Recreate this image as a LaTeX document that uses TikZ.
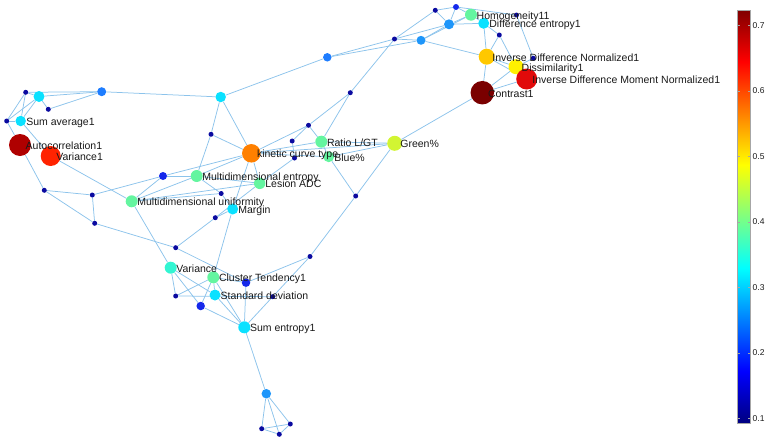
\documentclass[tikz,border=0pt]{standalone}
\usepackage{fontspec}
\setmainfont{Liberation Sans}
\pgfdeclarelayer{bg}
\pgfsetlayers{bg,main}
\definecolor{edgec}{RGB}{140,195,235}
\definecolor{jdark}{RGB}{10,10,160}
\definecolor{jblueA}{RGB}{20,40,235}
\definecolor{jblueB}{RGB}{30,125,255}
\definecolor{jblueC}{RGB}{30,150,250}
\definecolor{jcyan}{RGB}{10,225,255}
\definecolor{jcygr}{RGB}{50,245,210}
\definecolor{jgreen}{RGB}{100,245,160}
\definecolor{jyg}{RGB}{210,245,50}
\definecolor{jyel}{RGB}{255,240,0}
\definecolor{jyor}{RGB}{255,200,0}
\definecolor{jorange}{RGB}{255,128,0}
\definecolor{jred}{RGB}{225,10,10}
\definecolor{jredB}{RGB}{255,35,0}
\definecolor{jdred}{RGB}{175,0,0}
\definecolor{jddred}{RGB}{122,0,0}
\definecolor{txt}{RGB}{25,25,25}
\definecolor{jc0}{RGB}{0,0,128}
\definecolor{jc1}{RGB}{0,0,255}
\definecolor{jc2}{RGB}{0,255,255}
\definecolor{jc3}{RGB}{255,255,0}
\definecolor{jc4}{RGB}{255,0,0}
\definecolor{jc5}{RGB}{128,0,0}
\pgfdeclareverticalshading{jetmap}{100bp}{color(0bp)=(jc0); color(25bp)=(jc0); color(31.25bp)=(jc1); color(43.75bp)=(jc2); color(56.25bp)=(jc3); color(68.75bp)=(jc4); color(75bp)=(jc5); color(100bp)=(jc5)}
\tikzset{
  nd/.style n args={2}{circle,inner sep=0pt,minimum size=#1,fill=#2,draw=none},
  dot/.style={nd={5pt}{jdark}},
  lbl/.style={anchor=base west,inner sep=0pt,text=txt,font=\fontsize{10.5}{12}\selectfont},
  edge/.style={draw=edgec,line width=0.75pt},
  cbl/.style={anchor=west,inner sep=0pt,text=txt,font=\fontsize{8.5}{10}\selectfont}
}
\begin{document}
\begin{tikzpicture}[x=1pt,y=-1pt]
\useasboundingbox (0,0) rectangle (773,442);
% left cluster
\node[dot] (a1) at (25.7,92.3) {};
\node[nd={11pt}{jcyan}] (b1) at (39,96.5) {};
\node[nd={9pt}{jblueB}] (c1) at (101.7,91.7) {};
\node[dot] (d1) at (48.3,109.3) {};
\node[dot] (e1) at (6.7,121) {};
\node[nd={10.5pt}{jcyan}] (sa) at (20.7,121) {};
\node[nd={22pt}{jdred}] (ac) at (20,145) {};
\node[nd={20pt}{jredB}] (v1) at (50.7,156) {};
\node[dot] (f1) at (44.3,190.3) {};
\node[dot] (g1) at (92.3,195) {};
\node[dot] (h1) at (94.7,223.3) {};
\node[nd={12pt}{jgreen}] (mu) at (131.7,201.3) {};
\node[nd={8pt}{jblueA}] (i1) at (163,176) {};
\node[nd={12pt}{jgreen}] (me) at (196.7,176) {};
\node[nd={10.5pt}{jcyan}] (j1) at (220.7,97) {};
\node[dot] (k1) at (211,134.3) {};
\node[nd={18.5pt}{jorange}] (kc) at (251.3,153.3) {};
\node[dot] (l1) at (308.5,125.3) {};
\node[dot] (m1) at (292.2,141) {};
\node[nd={12pt}{jgreen}] (rl) at (321.3,141.7) {};
\node[dot] (n1) at (350.3,92.7) {};
\node[nd={15pt}{jyg}] (gp) at (394.7,143.3) {};
\node[nd={11pt}{jgreen}] (bp) at (328.7,156.7) {};
\node[dot] (o1) at (294.5,158) {};
\node[nd={11.5pt}{jgreen}] (la) at (259.7,183.3) {};
\node[dot] (p1) at (221.2,193.5) {};
\node[nd={11pt}{jcyan}] (mg) at (232.7,209) {};
\node[dot] (q1) at (215.3,217.7) {};
\node[dot] (r1) at (175.7,247.7) {};
\node[dot] (s1) at (355.7,196) {};
\node[dot] (t1) at (310,256.5) {};
% top right
\node[dot] (u1) at (435.3,10.3) {};
\node[nd={6pt}{jblueA}] (v2) at (456,7) {};
\node[nd={12pt}{jgreen}] (hm) at (471,14.7) {};
\node[nd={10pt}{jblueC}] (w1) at (449,24.3) {};
\node[nd={11pt}{jcyan}] (de) at (483.7,23.3) {};
\node[dot] (x1) at (516.5,15) {};
\node[dot] (y1) at (499.3,35) {};
\node[dot] (z1) at (394.5,39) {};
\node[nd={9pt}{jblueC}] (aa) at (421,40.3) {};
\node[nd={8.5pt}{jblueB}] (ab) at (327.3,57.3) {};
\node[dot] (x2) at (533.3,58.3) {};
\node[nd={16pt}{jyor}] (idn) at (486.7,56.7) {};
\node[nd={15pt}{jyel}] (ds) at (516,66.7) {};
\node[nd={21pt}{jred}] (idm) at (526.7,79) {};
\node[nd={23.5pt}{jddred}] (ct) at (482.3,92.7) {};
% bottom
\node[nd={12pt}{jcygr}] (va) at (170.7,267.7) {};
\node[nd={12pt}{jgreen}] (cl) at (213.3,277.3) {};
\node[nd={8.5pt}{jblueA}] (ag) at (246,282.7) {};
\node[dot] (ah) at (175.7,296) {};
\node[nd={11pt}{jcyan}] (sd) at (215,295) {};
\node[dot] (ai) at (272.7,296.7) {};
\node[nd={8.5pt}{jblueA}] (aj) at (200.7,306) {};
\node[nd={12pt}{jcyan}] (se) at (244.3,327.3) {};
\node[nd={9.5pt}{jblueC}] (al) at (266.3,393.7) {};
\node[dot] (am) at (261.7,428.7) {};
\node[dot] (an) at (279.3,434.3) {};
\node[dot] (ao) at (290.3,424) {};
\begin{pgfonlayer}{bg}
\foreach \p/\q in {a1/b1,a1/c1,b1/c1,d1/c1,a1/e1,a1/sa,b1/e1,b1/sa,b1/d1,e1/sa,e1/ac,sa/v1,ac/f1,v1/mu,f1/g1,f1/h1,g1/h1,g1/i1,h1/r1,mu/i1,mu/me,mu/va,i1/me,i1/kc,
 j1/kc,j1/k1,k1/kc,k1/me,j1/c1,j1/ab,kc/l1,kc/rl,kc/bp,kc/gp,kc/me,kc/la,kc/mg,l1/n1,l1/rl,l1/m1,m1/o1,rl/n1,rl/gp,rl/bp,bp/gp,bp/s1,s1/gp,s1/t1,gp/ct,me/la,me/p1,p1/mg,o1/la,la/q1,mg/q1,q1/r1,mu/p1,mu/la,mg/cl,
 r1/ag,va/ah,va/aj,va/sd,ah/cl,ah/ai,aj/cl,aj/se,cl/se,sd/se,ag/se,cl/ag,sd/cl,ag/t1,t1/ai,ai/se,se/al,al/am,al/an,al/ao,am/an,am/ao,an/ao,
 n1/z1,ab/z1,ab/aa,z1/u1,z1/w1,z1/aa,aa/w1,aa/hm,aa/idn,u1/v2,u1/w1,v2/hm,v2/w1,v2/x1,hm/w1,hm/de,w1/de,de/y1,de/idn,y1/idn,y1/ds,x1/x2,x2/ds,idn/ds,idn/ct,idn/idm,ds/ct,idm/ct,ds/idm}
  \draw[edge] (\p) -- (\q);
\end{pgfonlayer}
% labels
\foreach \n/\t in {sa/Sum average1,ac/Autocorrelation1,v1/Variance1,mu/Multidimensional uniformity,me/Multidimensional entropy,kc/kinetic curve type,rl/Ratio L\slash GT,bp/Blue\%,gp/Green\%,la/Lesion ADC,mg/Margin,hm/Homogeneity11,de/Difference entropy1,idn/Inverse Difference Normalized1,ds/Dissimilarity1,idm/Inverse Difference Moment Normalized1,ct/Contrast1,va/Variance,cl/Cluster Tendency1,sd/Standard deviation,se/Sum entropy1}
  \node[lbl] (t-\n) at ([xshift=5.5pt,yshift=-4.5pt]\n.center) {\t};
% colorbar
\shade[shading=jetmap] (737.5,10) rectangle (750.5,423);
\node[draw=gray!70,line width=0.6pt,inner sep=0pt,minimum width=13pt,minimum height=413pt] (cb) at (744,216.5) {};
\foreach \v/\y in {0.7/25.3,0.6/90.8,0.5/156.3,0.4/221.8,0.3/287.3,0.2/352.8,0.1/418.3}{
  \draw[gray!70,line width=0.5pt] (748,\y) -- (750.5,\y);
  \draw[gray!70,line width=0.5pt] (737.5,\y) -- (740,\y);
  \node[cbl] at (752.5,\y) {\v};
}
\end{tikzpicture}
\end{document}
